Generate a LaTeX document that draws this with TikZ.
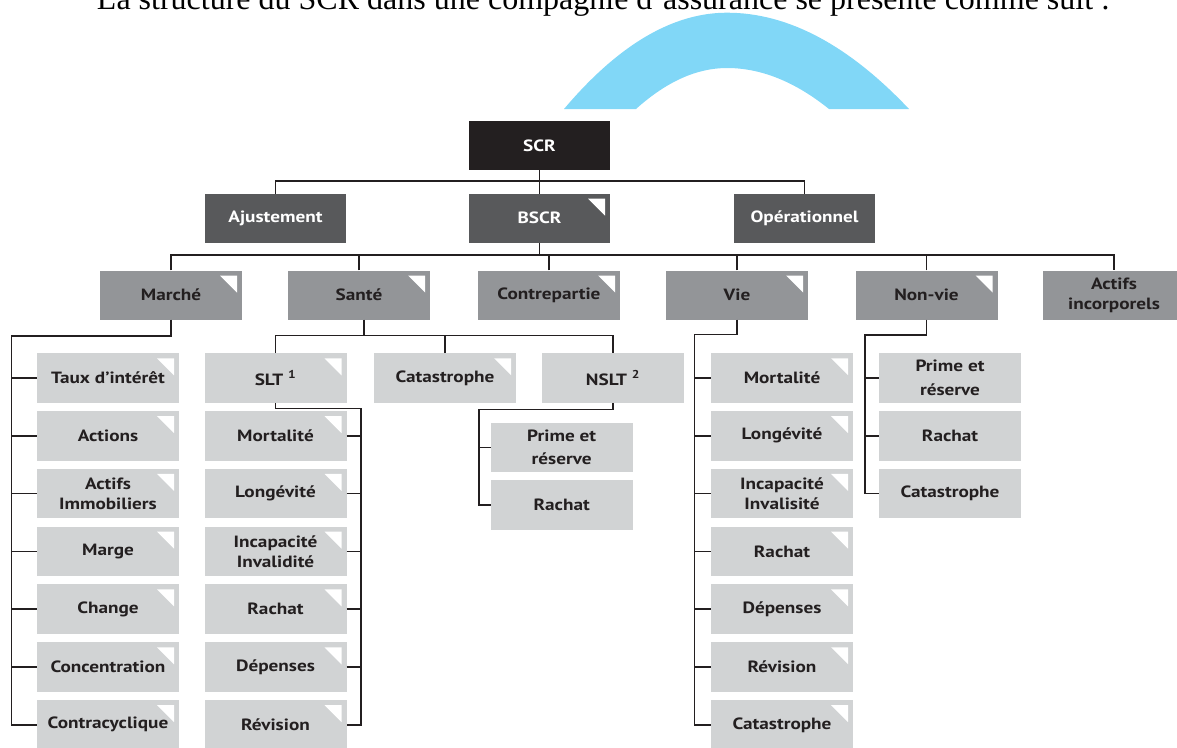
\documentclass[tikz,border=0pt]{standalone}
\usepackage{graphicx}
\usepackage{fontspec}
\newfontfamily\boxfont[FakeStretch=1.18]{PT Sans}
\newfontfamily\titlefont{Liberation Serif}
\definecolor{ink}{HTML}{231F20}
\definecolor{dgray}{HTML}{58595B}
\definecolor{mgray}{HTML}{939598}
\definecolor{lgray}{HTML}{D1D3D4}
\definecolor{archblue}{HTML}{81D7F7}
\tikzset{
  box/.style={rectangle, inner sep=0pt, minimum width=142pt, minimum height=49pt,
    align=center, text=ink, font=\boxfont\bfseries\fontsize{16.3}{20}\selectfont},
  lvlA/.style={box, fill=ink, text=white, minimum width=141pt},
  lvlB/.style={box, fill=dgray, text=white, minimum width=141pt},
  lvlC/.style={box, fill=mgray},
  lvlD/.style={box, fill=lgray, minimum height=49.5pt},
  corner/.style={path picture={\fill[white]
      ([shift={(-22pt,-5pt)}]path picture bounding box.north east) --
      ([shift={(-5pt,-5pt)}]path picture bounding box.north east) --
      ([shift={(-5pt,-22pt)}]path picture bounding box.north east) -- cycle;}},
  link/.style={draw=ink, line width=1.6pt},
}
\begin{document}
\begin{tikzpicture}[x=1pt,y=-1pt]
\useasboundingbox (0,0) rectangle (1177,747);
\clip (0,0) rectangle (1177,747);
% title
\node[anchor=base, inner sep=0pt] (title) at (603.5,9.5)
  {\resizebox{1013pt}{!}{\titlefont La structure du SCR dans une compagnie d’assurance se présente comme suit :}};
% arch
\fill[archblue] (564,109) .. controls (618.3,44.8) and (672.7,12.7) .. (727,12.7)
  .. controls (787.7,12.7) and (848.3,44.8) .. (909,109)
  -- (829,109) .. controls (795,81.7) and (761,68) .. (727,68)
  .. controls (696.7,68) and (666.3,81.7) .. (636,109) -- cycle;
% level 0 and 1
\node[lvlA] (scr) at (539.5,145.3) {SCR};
\node[lvlB] (ajust) at (275.5,218.2) {Ajustement};
\node[lvlB,corner] (bscr) at (539.5,218.2) {BSCR};
\node[lvlB] (oper) at (804.5,218.2) {Opérationnel};
% level 2
\node[lvlC,corner] (marche) at (171,295) {Marché};
\node[lvlC,corner] (sante) at (359,295) {Santé};
\node[lvlC,corner] (contre) at (549,295) {Contrepartie};
\node[lvlC,corner] (vie) at (737,295) {Vie};
\node[lvlC,corner] (nonvie) at (926.5,295) {Non-vie};
\node[lvlC] (actinc) at (1114,295) {Actifs\\incorporels};
% Marché children
\node[lvlD,corner] (m1) at (108,378) {Taux d’intérêt};
\node[lvlD,corner] (m2) at (108,435.8) {Actions};
\node[lvlD,corner] (m3) at (108,493.6) {Actifs\\Immobiliers};
\node[lvlD,corner] (m4) at (108,551.4) {Marge};
\node[lvlD,corner] (m5) at (108,609.2) {Change};
\node[lvlD,corner] (m6) at (108,667) {Concentration};
\node[lvlD,corner] (m7) at (108,724.8) {Contracyclique};
% Santé children
\node[lvlD,corner] (slt) at (275.5,378) {SLT \textsuperscript{1}};
\node[lvlD,corner] (cat) at (445,378) {Catastrophe};
\node[lvlD] (nslt) at (613,378) {NSLT \textsuperscript{2}};
\node[lvlD,corner] (s2) at (275.5,435.8) {Mortalité};
\node[lvlD,corner] (s3) at (275.5,493.6) {Longévité};
\node[lvlD,corner] (s4) at (275.5,551.4) {Incapacité\\Invalidité};
\node[lvlD,corner] (s5) at (275.5,609.2) {Rachat};
\node[lvlD,corner] (s6) at (275.5,667) {Dépenses};
\node[lvlD,corner] (s7) at (275.5,724.8) {Révision};
\node[lvlD] (n1) at (561.7,447.3) {Prime et\\[3.5pt]réserve};
\node[lvlD] (n2) at (561.7,505) {Rachat};
% Vie children
\node[lvlD,corner] (v1) at (782,378) {Mortalité};
\node[lvlD,corner] (v2) at (782,435.8) {Longévité};
\node[lvlD,corner] (v3) at (782,493.6) {Incapacité\\Invalisité};
\node[lvlD,corner] (v4) at (782,551.4) {Rachat};
\node[lvlD,corner] (v5) at (782,609.2) {Dépenses};
\node[lvlD,corner] (v6) at (782,667) {Révision};
\node[lvlD,corner] (v7) at (782,724.8) {Catastrophe};
% Non-vie children
\node[lvlD] (p1) at (950,378) {Prime et\\[3.5pt]réserve};
\node[lvlD] (p2) at (950,435.8) {Rachat};
\node[lvlD] (p3) at (950,493.6) {Catastrophe};
% connectors
\coordinate (h1) at (0,181);
\coordinate (h2) at (0,255);
\coordinate (h3) at (0,335.5);
\coordinate (mL) at (11.5,336);
\coordinate (sR) at (360.7,408.5);
\coordinate (nL) at (478.7,409.5);
\coordinate (vL) at (694.5,334.5);
\coordinate (nvL) at (865,335);
\draw[link] (scr.south) -- (scr.south |- h1);
\draw[link] (ajust.north) |- (oper.north |- h1) -- (oper.north);
\draw[link] (bscr.north) -- (bscr.north |- h1);
\draw[link] (bscr.south) -- (bscr.south |- h2);
\draw[link] (marche.north) |- (actinc.north |- h2) -- (actinc.north);
\foreach \n in {sante,contre,vie,nonvie} \draw[link] (\n.north) -- (\n.north |- h2);
\draw[link] (marche.south) |- (mL) |- (m7.west);
\foreach \i in {1,...,6} \draw[link] (m\i.west) -- (m\i.west -| mL);
\draw[link] ([xshift=5pt]sante.south) -- ([xshift=5pt]sante.south |- h3);
\draw[link] (slt.north) |- (nslt.north |- h3) -- (nslt.north);
\draw[link] (cat.north) -- (cat.north |- h3);
\draw[link] (slt.south) |- (sR) |- (s7.east);
\foreach \i in {2,...,6} \draw[link] (s\i.east) -- (s\i.east -| sR);
\draw[link] (nslt.south) |- (nL) |- (n2.west);
\draw[link] (n1.west) -- (n1.west -| nL);
\draw[link] (vie.south) |- (vL) |- (v7.west);
\foreach \i in {1,...,6} \draw[link] (v\i.west) -- (v\i.west -| vL);
\draw[link] (nonvie.south) |- (nvL) |- (p3.west);
\foreach \i in {1,2} \draw[link] (p\i.west) -- (p\i.west -| nvL);
\end{tikzpicture}
\end{document}
